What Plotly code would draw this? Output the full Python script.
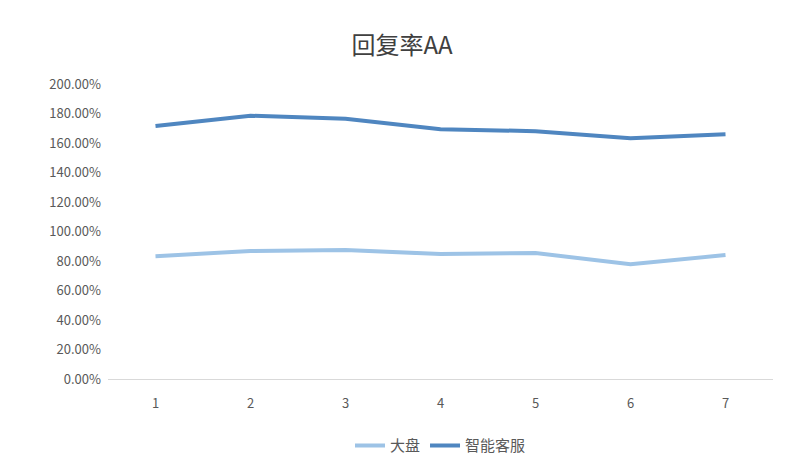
import plotly.graph_objects as go

x = ["1", "2", "3", "4", "5", "6", "7"]
dapan = [0.833, 0.868, 0.875, 0.847, 0.854, 0.778, 0.840]
zhineng = [1.715, 1.785, 1.764, 1.694, 1.680, 1.632, 1.660]

fig = go.Figure()
fig.add_trace(go.Scatter(x=x, y=dapan, mode="lines", name="大盘",
                         line=dict(color="#9DC3E6", width=4)))
fig.add_trace(go.Scatter(x=x, y=zhineng, mode="lines", name="智能客服",
                         line=dict(color="#4F86C0", width=4)))
fig.update_layout(
    width=788, height=466, plot_bgcolor="white", paper_bgcolor="white",
    font=dict(family="Noto Sans CJK SC, Noto Sans", color="#595959", size=13),
    title=dict(text="回复率AA", x=0.5, y=0.92, xanchor="center", yanchor="middle",
               font=dict(size=24, color="#404040")),
    margin=dict(l=100, r=23, t=76, b=95),
    xaxis=dict(showline=True, linecolor="#D9D9D9", linewidth=1, showgrid=False, ticks="",
               range=[-0.5, 6.5], ticklabelstandoff=12),
    yaxis=dict(range=[0, 2.0], dtick=0.2, tickformat=".2%", showgrid=False, zeroline=False,
               ticklabelstandoff=6),
    legend=dict(orientation="h", x=0.5, xanchor="center", y=-0.17, yanchor="top",
                font=dict(size=15)),
)
fig.write_html("out.html")
